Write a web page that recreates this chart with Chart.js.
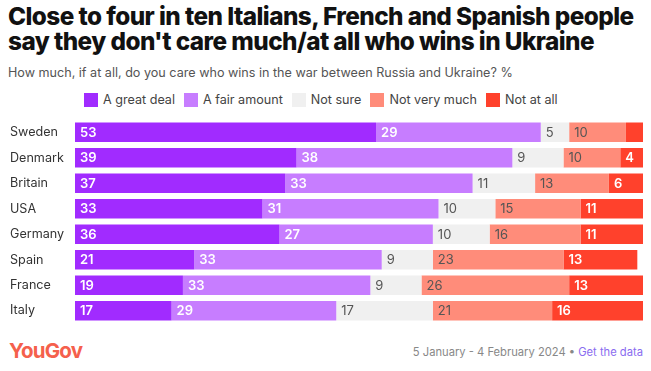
<!DOCTYPE html>
<html><head><meta charset="utf-8">
<script src="https://cdn.jsdelivr.net/npm/chart.js@4"></script>
<style>
html,body{margin:0;padding:0;background:#fff;width:651px;height:371px;overflow:hidden;font-family:Inter,"Noto Sans",sans-serif;}
#title{position:absolute;left:8px;top:4px;font-size:24.3px;font-weight:800;line-height:25px;color:#111;letter-spacing:-0.55px;}
#sub{position:absolute;left:8px;top:65px;font-size:12.6px;color:#555;}
#legend{position:absolute;left:84px;top:92px;font-size:12.6px;color:#444;display:flex;}
.li{display:flex;align-items:center;margin-right:9px;}
.sw{width:14px;height:14px;margin-right:5px;}
#wrap{position:absolute;left:0;top:112px;width:651px;height:219px;}
#logo{position:absolute;left:9px;top:338px;font-size:20.5px;font-weight:700;color:#f5604c;letter-spacing:-0.8px;}
#src{position:absolute;right:8px;top:345px;font-size:11.2px;color:#888;}
#src span{color:#8a6cf0;}
</style></head><body>
<div id="title">Close to four in ten Italians, French and Spanish people<br>say they don't care much/at all who wins in Ukraine</div>
<div id="sub">How much, if at all, do you care who wins in the war between Russia and Ukraine? %</div>
<div id="legend"></div>
<div id="wrap"><canvas id="c"></canvas></div>
<div id="logo">YouGov</div>
<div id="src">5 January - 4 February 2024 • <span>Get the data</span></div>
<script>
const countries = ["Sweden","Denmark","Britain","USA","Germany","Spain","France","Italy"];
const greatDeal   = [53,39,37,33,36,21,19,17];
const fairAmount  = [29,38,33,31,27,33,33,29];
const notSure     = [5,9,11,10,10,9,9,17];
const notVeryMuch = [10,10,13,15,16,23,26,21];
const notAtAll    = [3,4,6,11,11,13,13,16];
const seriesNames = ["A great deal","A fair amount","Not sure","Not very much","Not at all"];
const colors = ["#a12bff","#c77dff","#f0f0f0","#ff8c7a","#ff412c"];
const labelColors = ["#fff","#fff","#555","#555","#fff"];
const labelWeights = ["600","600","400","400","600"];
const showMin = 4;

const leg = document.getElementById('legend');
seriesNames.forEach((n,i)=>{
  const d=document.createElement('div');d.className='li';
  d.innerHTML='<div class="sw" style="background:'+colors[i]+'"></div>'+n;
  leg.appendChild(d);
});

const all=[greatDeal,fairAmount,notSure,notVeryMuch,notAtAll];
const labelPlugin={
  id:'lbl',
  afterDatasetsDraw(chart){
    const ctx=chart.ctx;
    chart.data.datasets.forEach((ds,di)=>{
      const meta=chart.getDatasetMeta(di);
      meta.data.forEach((bar,i)=>{
        const v=ds.data[i];
        if(v<showMin) return;
        const left=Math.min(bar.x,bar.base);
        ctx.save();
        ctx.font=labelWeights[di]+' 13px Inter, "Noto Sans", sans-serif';
        ctx.fillStyle=labelColors[di];
        ctx.textBaseline='middle';
        ctx.textAlign='left';
        ctx.fillText(String(v),left+5,bar.y+0.5);
        ctx.restore();
      });
    });
  }
};

new Chart(document.getElementById('c'),{
  type:'bar',
  data:{labels:countries,datasets:all.map((d,i)=>({label:seriesNames[i],data:d,backgroundColor:colors[i],borderWidth:0,categoryPercentage:0.76,barPercentage:1}))},
  options:{
    indexAxis:'y',responsive:true,maintainAspectRatio:false,animation:false,
    layout:{padding:{left:10,right:8,top:0,bottom:0}},
    plugins:{legend:{display:false},tooltip:{enabled:false}},
    scales:{
      x:{stacked:true,min:0,max:100,display:false},
      y:{stacked:true,grid:{display:false},border:{display:false},
         ticks:{color:'#333',font:{size:12.6,family:'Inter, "Noto Sans", sans-serif'},crossAlign:'far',padding:0},
         afterFit(s){s.width=65;}}
    }
  },
  plugins:[labelPlugin]
});
</script>
</body></html>
